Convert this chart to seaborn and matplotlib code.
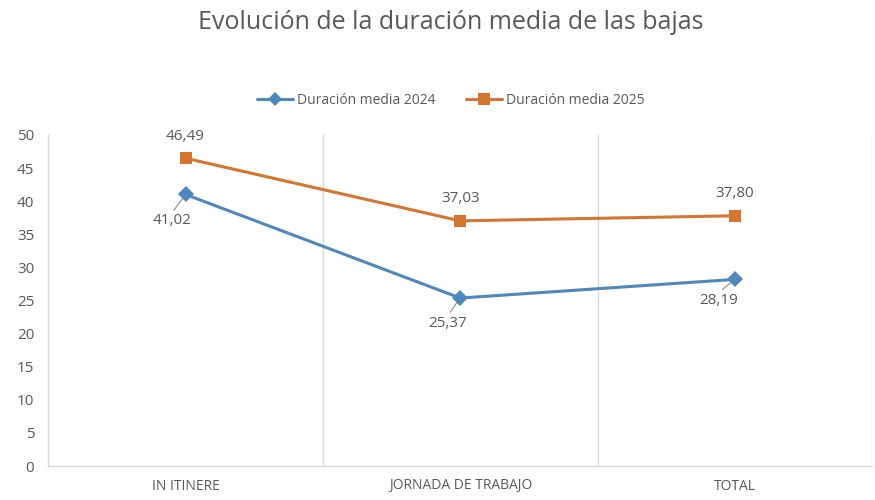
import seaborn as sns
import matplotlib
import matplotlib.pyplot as plt
import pandas as pd

matplotlib.use('Agg')

categories = ["IN ITINERE", "JORNADA DE TRABAJO", "TOTAL"]
media_2024 = [41.02, 25.37, 28.19]
media_2025 = [46.49, 37.03, 37.80]
series_names = ["Duración media 2024", "Duración media 2025"]

BLUE = "#5087bd"
ORANGE = "#d47532"
TEXT = "#595959"

sns.set_style("white")
plt.rcParams['font.family'] = ['Open Sans', 'DejaVu Sans']

# tabla larga para seaborn
df = pd.DataFrame({
    "pos": list(range(len(categories))) * 2,
    "valor": media_2024 + media_2025,
    "serie": [series_names[0]] * 3 + [series_names[1]] * 3,
})

fig = plt.figure(figsize=(8.75, 5), dpi=100)
ax = fig.add_axes([0.055, 0.068, 0.942, 0.662])

sns.lineplot(data=df, x="pos", y="valor", hue="serie", style="serie",
             palette=[BLUE, ORANGE], markers=["D", "s"], dashes=False,
             linewidth=2.2, markersize=8, markeredgewidth=0, ax=ax, legend=False)

ax.set_xlim(-0.5, 2.5)
ax.set_ylim(0, 50)
ax.set_yticks(range(0, 51, 5))
ax.set_xticks(range(len(categories)))
ax.set_xticklabels(categories)
ax.set_xlabel("")
ax.set_ylabel("")

# líneas verticales entre categorías
for xb in [0.5, 1.5, 2.5]:
    ax.axvline(xb, color="#d9d9d9", linewidth=1, zorder=0)

for side in ["top", "right"]:
    ax.spines[side].set_visible(False)
for side in ["left", "bottom"]:
    ax.spines[side].set_color("#d9d9d9")
    ax.spines[side].set_linewidth(1)

ax.tick_params(axis="y", length=0, labelsize=11, labelcolor=TEXT, pad=10)
ax.tick_params(axis="x", length=0, labelsize=10, labelcolor=TEXT, pad=9)

def fmt(v):
    return f"{v:.2f}".replace(".", ",")

# etiquetas 2025 encima
for i, v in enumerate(media_2025):
    ax.annotate(fmt(v), (i, v), xytext=(0, 16), textcoords="offset points",
                ha="center", va="center", fontsize=11, color=TEXT)

# etiquetas 2024 con línea guía
offsets_2024 = [(-10, -19), (-9, -18), (-12, -15)]
for i, v in enumerate(media_2024):
    dx, dy = offsets_2024[i]
    ax.annotate(fmt(v), (i, v), xytext=(dx, dy), textcoords="offset points",
                ha="center", va="center", fontsize=11, color=TEXT,
                arrowprops=dict(arrowstyle="-", color="#8c8c8c", lw=0.8,
                                relpos=(0.5, 1.0), shrinkA=0, shrinkB=3.5))

# leyenda manual arriba
handles = [
    plt.Line2D([], [], color=BLUE, marker="D", markersize=7, linewidth=2.2, markeredgewidth=0),
    plt.Line2D([], [], color=ORANGE, marker="s", markersize=8, linewidth=2.2, markeredgewidth=0),
]
fig.legend(handles, series_names, loc="center", bbox_to_anchor=(0.515, 0.8), ncol=2,
           frameon=False, fontsize=10, labelcolor=TEXT, handlelength=2.6,
           columnspacing=2.2, handletextpad=0.3)

fig.text(0.515, 0.955, "Evolución de la duración media de las bajas", ha="center", va="center",
         fontsize=18, color=TEXT)

fig.savefig("out.png", dpi=100)
